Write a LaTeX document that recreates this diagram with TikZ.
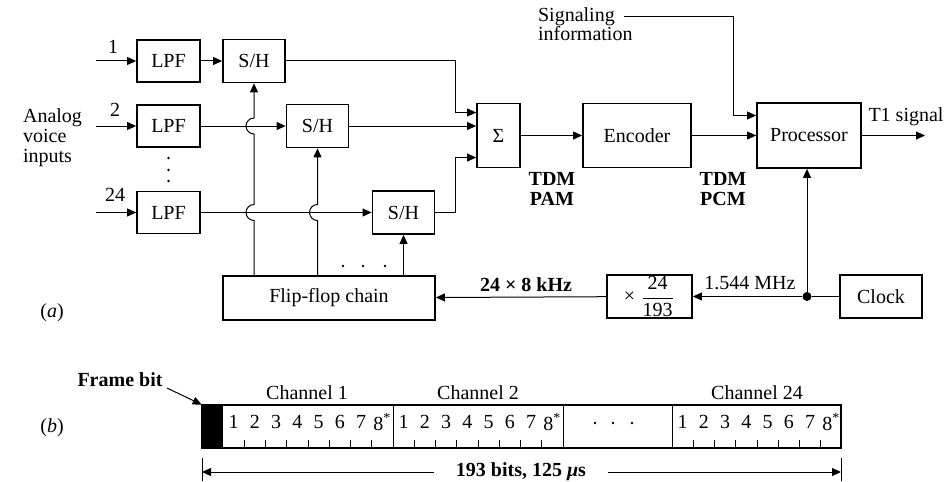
\documentclass[tikz,border=0pt]{standalone}
\usepackage{amsmath}
\usepackage{fontspec}
\setmainfont{Liberation Serif}
\usetikzlibrary{arrows.meta, calc}

\begin{document}
\begin{tikzpicture}[x=0.5pt, y=-0.5pt, font=\fontsize{10}{10}\selectfont,
  blk/.style={draw, line width=0.9pt, inner sep=0pt},
  lpfbox/.style={blk, minimum width=31.5pt, minimum height=21pt},
  shbox/.style={blk, minimum width=31pt, minimum height=21.5pt},
  sig/.style={line width=0.5pt, -{Triangle[length=4.5pt, width=4pt]}},
  wire/.style={line width=0.5pt}]
  \useasboundingbox (0,0) rectangle (951,481);

  % Blocks
  \node[lpfbox] (lpf1) at (168.5,61) {LPF};
  \node[lpfbox] (lpf2) at (168.5,126) {LPF};
  \node[lpfbox] (lpf24) at (168.5,212.5) {LPF};
  \node[shbox] (sh1) at (254,61) {S/H};
  \node[shbox] (sh2) at (317.5,126) {S/H};
  \node[shbox] (sh3) at (403.5,212.5) {S/H};
  \node[blk, minimum width=21.5pt, minimum height=32pt] (sigma) at (498.5,135.5) {Σ};
  \node[blk, minimum width=54pt, minimum height=32pt] (enc) at (637,135.5) {Encoder};
  \node[blk, minimum width=52pt, minimum height=32.5pt] (proc) at (809,135.5) {Processor};
  \node[blk, minimum width=106pt, minimum height=22pt] (ff) at (329,298) {Flip-flop chain};
  \node[blk, minimum width=42.5pt, minimum height=21.5pt] (mult) at (649.5,296.5) {× $\dfrac{\text{24}}{\text{193}}$};
  \node[blk, minimum width=41pt, minimum height=21.5pt] (clock) at (881,296.5) {Clock};
  \node[fill, circle, inner sep=0pt, minimum size=4.5pt] (dot) at (807,296.5) {};

  % Labels
  \node[align=left, anchor=west] (analog) at (16,138) {Analog\\voice\\inputs};
  \node (n1) at (113,47) {1};
  \node (n2) at (115,110) {2};
  \node (n24) at (115,195) {24};
  \node[align=left, anchor=west, font=\fontsize{10}{9.5}\selectfont] (sigtxt) at (531,24) {Signaling\\information};
  \node (t1txt) at (906,117) {T1 signal};
  \node[align=center, font=\fontsize{10}{10}\selectfont\bfseries] (pam) at (552,189) {TDM\\PAM};
  \node[align=center, font=\fontsize{10}{10}\selectfont\bfseries] (pcm) at (723,189) {TDM\\PCM};
  \node[font=\bfseries] (khz) at (526,285) {24 × 8 kHz};
  \node (mhz) at (750,283) {1.544 MHz};
  \node (pa) at (52,313) {(\textit{a})};

  % Coordinates
  \coordinate (sigA) at ([yshift=11.5pt]sigma.west);
  \coordinate (sigC) at ([yshift=-11pt]sigma.west);
  \coordinate (procA) at ([yshift=10pt]proc.west);
  \coordinate (sigS) at (624,17);
  \coordinate (t1) at (925,135.5);

  % Drawing
  \draw[sig] ([xshift=-20pt]lpf1.west) -- (lpf1.west);
  \draw[sig] ([xshift=-20pt]lpf2.west) -- (lpf2.west);
  \draw[sig] ([xshift=-20pt]lpf24.west) -- (lpf24.west);
  \draw[sig] (lpf1) -- (sh1);
  \draw[sig] (lpf2) -- (sh2);
  \draw[sig] (lpf24) -- (sh3);
  \draw[sig] (sh1.east) -| ([xshift=-10.5pt]sigA) -- (sigA);
  \draw[sig] (sh2.east) -- (sh2.east -| sigma.west);
  \draw[sig] (sh3.east) -| ([xshift=-10.5pt]sigC) -- (sigC);
  \draw[sig] (sigma) -- (enc);
  \draw[sig] (enc) -- (proc);
  \draw[sig] (sigS) -| ([xshift=-11.5pt]procA) -- (procA);
  \draw[sig] (proc.east) -- (t1);
  \draw[wire] (clock) -- (dot);
  \draw[sig] (dot) -- (mult);
  \draw[sig] (dot) -- (dot |- proc.south);
  \draw[sig] (mult) -- (ff);
  \draw[sig] (sh1 |- ff.north) -- ($(sh1 |- lpf24)+(0,8)$)
    arc[start angle=-90, end angle=-270, radius=4pt]
    -- ($(sh1 |- lpf2)+(0,8)$)
    arc[start angle=-90, end angle=-270, radius=4pt] -- (sh1.south);
  \draw[sig] (sh2 |- ff.north) -- ($(sh2 |- lpf24)+(0,8)$)
    arc[start angle=-90, end angle=-270, radius=4pt] -- (sh2.south);
  \draw[sig] (sh3 |- ff.north) -- (sh3.south);
  \foreach \y in {158,170,181} \fill (168.5,\y) circle (0.7pt);
  \foreach \x in {343,363,385} \fill (\x,266) circle (0.7pt);

  % Frame
  \node[fill=black, inner sep=0pt, minimum width=10.5pt, minimum height=21.5pt] (fbit) at (212.5,426.5) {};
  \draw[line width=0.9pt] (202,405) rectangle (841,448);
  \foreach \x in {393,563,672} \draw[wire] (\x,405) -- (\x,448);
  \foreach \s in {223,393,672} {
    \foreach \k in {1,...,7} {
      \draw[wire] (\s+21.25*\k,448) -- (\s+21.25*\k,440);
      \node at (\s+21.25*\k-10.6,422) {\k};
    }
    \node at (\s+159.4,422) {8\textsuperscript{*}};
  }
  \foreach \x in {595,613,632} \fill (\x,423) circle (0.7pt);
  \node (ch1) at (307,393) {Channel 1};
  \node (ch2) at (478,393) {Channel 2};
  \node (ch24) at (757,393) {Channel 24};
  \node[font=\bfseries] (fbtxt) at (120,380) {Frame bit};
  \coordinate (fbS) at (167,388);
  \draw[sig] (fbS) -- (fbit.north west);
  \node[font=\bfseries, inner xsep=11pt] (dim) at (521,472) {193 bits, 125 {\itshape μ}s};
  \coordinate (dimL) at (202,472);
  \coordinate (dimR) at (841,472);
  \draw[sig] (dim.west) -- (dimL);
  \draw[sig] (dim.east) -- (dimR);
  \draw[wire] (202,458) -- (202,481);
  \draw[wire] (841,458) -- (841,481);
  \node (pb) at (52,428) {(\textit{b})};
\end{tikzpicture}
\end{document}
